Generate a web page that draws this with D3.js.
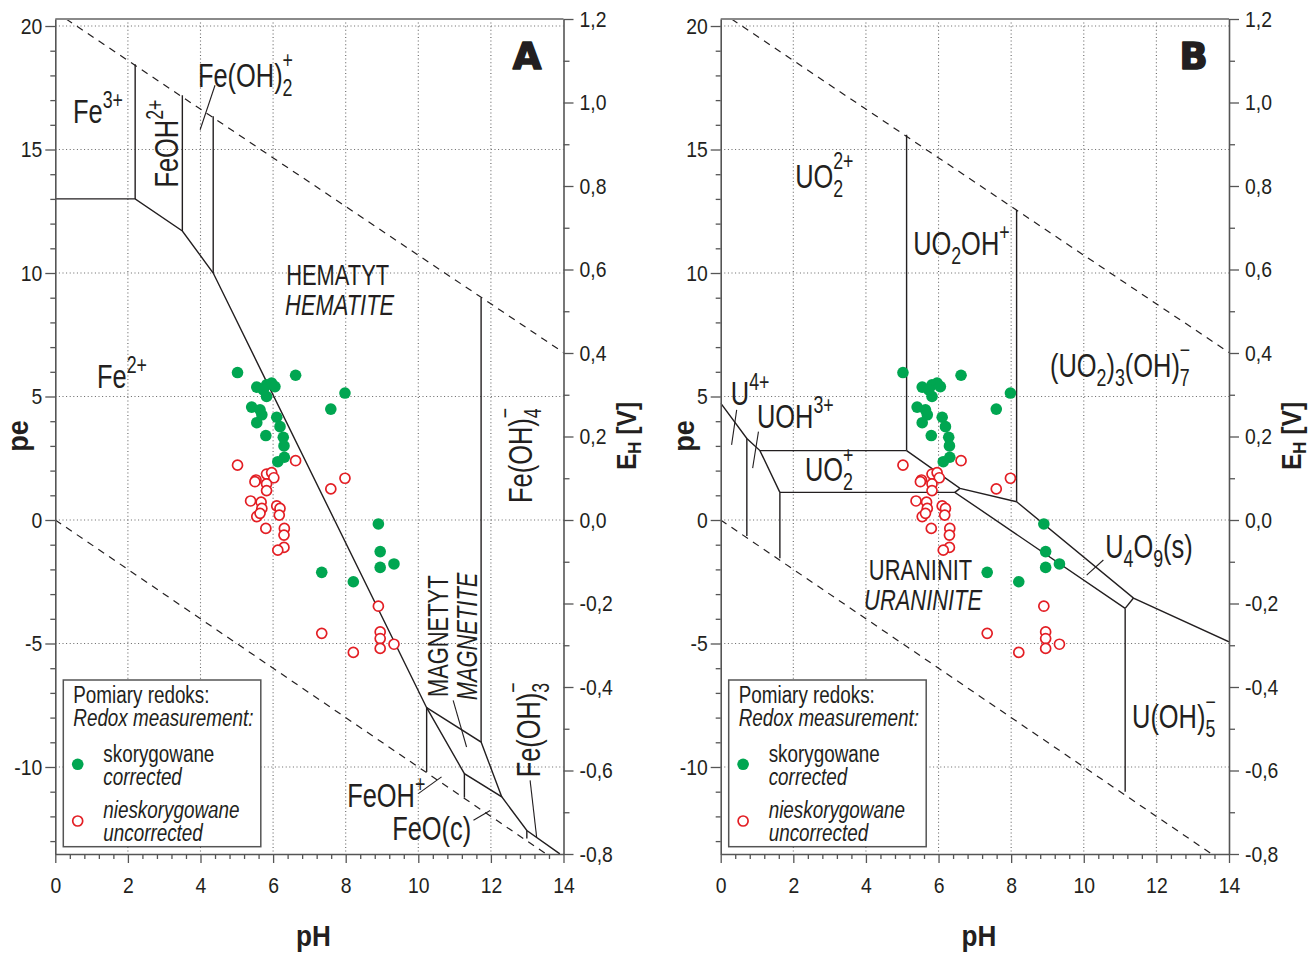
<!DOCTYPE html>
<html><head><meta charset="utf-8">
<script src="https://cdn.jsdelivr.net/npm/d3@7"></script>
<style>
body{margin:0;background:#fff}
svg text{font-family:"Liberation Sans Narrow","Liberation Sans",Arial,sans-serif;fill:#231f20}
</style></head><body>
<svg id="c" width="1309" height="953"></svg>
<script>
// ---------- DATA ----------
const phTicks = [0, 2, 4, 6, 8, 10, 12, 14];
const peTicks = [-10, -5, 0, 5, 10, 15, 20];
const ehTicks = [-0.8, -0.6, -0.4, -0.2, 0, 0.2, 0.4, 0.6, 0.8, 1.0, 1.2];

// Redox measurements (same set drawn on both panels)
const correctedPH = [5.02, 6.62, 5.55, 5.82, 5.96, 6.05, 5.82, 5.73, 5.41, 5.64, 5.69, 5.55, 6.10, 6.19, 5.80, 6.28, 6.30, 6.31, 6.13, 7.34, 7.59, 7.98, 8.90, 8.95, 8.95, 9.33, 8.21];
const correctedPE = [5.97, 5.86, 5.38, 5.47, 5.54, 5.40, 5.00, 5.27, 4.57, 4.46, 4.26, 3.94, 4.16, 3.78, 3.42, 3.35, 3.00, 2.54, 2.36, -2.12, 4.49, 5.14, -0.16, -1.28, -1.92, -1.78, -2.50];
const uncorrectedPH = [5.02, 6.62, 5.53, 5.50, 5.82, 5.96, 6.02, 5.82, 5.82, 5.38, 5.67, 5.69, 5.55, 5.64, 5.80, 6.10, 6.19, 6.17, 6.31, 6.30, 6.30, 6.13, 7.59, 7.98, 8.90, 7.34, 8.95, 8.95, 8.95, 9.33, 8.21];
const uncorrectedPE = [2.22, 2.40, 1.62, 1.55, 1.86, 1.92, 1.71, 1.46, 1.19, 0.77, 0.72, 0.47, 0.14, 0.27, -0.34, 0.57, 0.47, 0.20, -0.34, -0.61, -1.11, -1.22, 1.26, 1.69, -3.49, -4.59, -4.53, -4.80, -5.20, -5.03, -5.36];

// water stability limits [pH, pe]
const waterUpper = [[0.3, 20.28], [14, 6.78]];
const waterLower = [[0, 0], [13.52, -13.52]];

// Fe boundaries [pH, pe]
const feBoundaries = [
  [[0, 13], [2.2, 13], [3.5, 11.7], [4.35, 10], [10.23, -7.6], [11.27, -10.27], [12.3, -11.21], [12.99, -12.57], [13.9, -13.52]],
  [[2.2, 13], [2.2, 18.45]],
  [[3.5, 11.7], [3.5, 17.2]],
  [[4.35, 10], [4.35, 16.35]],
  [[10.23, -7.6], [11.73, -8.99], [12.3, -11.21]],
  [[11.73, -8.99], [11.73, 9.0]],
  [[10.23, -7.6], [10.23, -10.2]],
  [[11.27, -10.27], [11.27, -11.24]],
  [[12.99, -12.57], [12.99, -12.9]]
];
const feLeaders = [
  [[3.99, 15.8], [4.4, 17.6]],
  [[10.96, -7.3], [11.33, -9.19]],
  [[10.0, -11.08], [10.64, -10.4]],
  [[11.52, -12.16], [11.98, -11.76]],
  [[13.08, -10.54], [13.26, -12.84]]
];
// U boundaries [pH, pe]
const uBoundaries = [
  [[5.12, 2.81], [5.12, 15.6]],
  [[8.15, 0.74], [8.15, 12.55]],
  [[0, 4.73], [0.72, 3.3], [1.08, 2.81], [1.63, 1.12]],
  [[1.08, 2.81], [5.12, 2.81]],
  [[5.12, 2.81], [6.59, 1.28], [8.15, 0.74]],
  [[6.59, 1.28], [6.45, 1.12]],
  [[1.63, 1.12], [6.45, 1.12], [11.14, -3.58]],
  [[8.15, 0.74], [11.37, -3.16], [14, -4.93]],
  [[11.14, -3.58], [11.37, -3.16]],
  [[11.14, -3.58], [11.14, -11.0]],
  [[0.72, 3.3], [0.72, -0.65]],
  [[1.63, 1.12], [1.63, -1.55]]
];
const uLeaders = [
  [[0.44, 4.46], [0.30, 3.04]],
  [[1.04, 3.58], [0.88, 2.1]],
  [[10.08, -2.23], [10.54, -1.62]]
];

// Species labels: anchor [pH, pe], text parts
const feLabels = [
  {at: [0.49, 16.09], parts: [["Fe"], ["3+", "sup"]]},
  {at: [3.38, 13.46], rot: -90, parts: [["FeOH"], ["2+", "sup"]]},
  {at: [3.93, 17.55], parts: [["Fe(OH)"], ["2", "sub"], ["+", "supS"]]},
  {at: [1.15, 5.35], parts: [["Fe"], ["2+", "sup"]]},
  {at: [13.13, 0.69], rot: -90, parts: [["Fe(OH)"], ["4", "sub"], ["\u2212", "supS"]]},
  {at: [10.82, -7.17], rot: -90, caps: true, parts: [["MAGNETYT"]]},
  {at: [11.62, -7.3], rot: -90, caps: true, italic: true, parts: [["MAGNETITE"]]},
  {at: [13.35, -10.42], rot: -90, parts: [["Fe(OH)"], ["3", "sub"], ["\u2212", "supS"]]},
  {at: [8.04, -11.63], parts: [["FeOH"], ["+", "sup"]]},
  {at: [9.28, -12.97], parts: [["FeO(c)"]]}
];
const feMineral = [{t: "HEMATYT", at: [6.36, 9.53]}, {t: "HEMATITE", at: [6.33, 8.31], italic: true}];
const uLabels = [
  {at: [2.05, 13.46], parts: [["UO"], ["2", "sub"], ["2+", "supS"]]},
  {at: [5.3, 10.74], parts: [["UO"], ["2", "sub"], ["OH"], ["+", "sup"]]},
  {at: [9.07, 5.8], parts: [["(UO"], ["2", "sub"], [")"], ["3", "sub"], ["(OH)"], ["7", "sub"], ["\u2212", "supS"]]},
  {at: [0.28, 4.66], parts: [["U"], ["4+", "sup"]]},
  {at: [1.0, 3.73], parts: [["UOH"], ["3+", "sup"]]},
  {at: [2.32, 1.58], parts: [["UO"], ["2", "sub"], ["+", "supS"]]},
  {at: [10.59, -1.54], parts: [["U"], ["4", "sub"], ["O"], ["9", "sub"], ["(s)"]]},
  {at: [11.33, -8.43], parts: [["U(OH)"], ["5", "sub"], ["\u2212", "supS"]]}
];
const uMineral = [{t: "URANINIT", at: [4.08, -2.43]}, {t: "URANINITE", at: [3.95, -3.65], italic: true}];
const panelLetters = ["A", "B"];
const legendTitle = ["Pomiary redoks:", "Redox measurement:"];
const legendSeries = [["skorygowane", "corrected"], ["nieskorygowane", "uncorrected"]];
const axisTitles = {x: "pH", y: "pe", y2: "E", y2sub: "H", y2unit: " [V]"};

// ---------- LAYOUT ----------
const svg = d3.select("#c");
const TOP = 19, BOTTOM = 854;
const PE_PER_V = 1 / 0.05916;
const eh = d3.scaleLinear().domain([-0.8, 1.2]).range([BOTTOM, TOP]);
const pe = d3.scaleLinear().domain([-0.8 * PE_PER_V, 1.2 * PE_PER_V]).range([BOTTOM, TOP]);
const INK = "#231f20";
const fmtEh = v => (v < -1e-9 ? "-" : "") + Math.abs(v).toFixed(1).replace(".", ",");
const fmtPe = v => (v < 0 ? "-" + (-v) : "" + v);

// horizontally condense text (reference uses a condensed face)
function squeeze(sel, f) {
  sel.each(function () {
    const w = this.getComputedTextLength();
    if (w > 0) d3.select(this).attr("textLength", w * f).attr("lengthAdjust", "spacingAndGlyphs");
  });
}

// one <text> per label; sub/superscripts as tspans, whole label condensed by scale
function drawLabel(g, px, py, L) {
  const size = L.caps ? 30 : 33;
  const f = L.caps ? 0.73 : 0.77;
  const grp = g.append("g").attr("transform",
    `translate(${px},${py})` + (L.rot ? ` rotate(${L.rot})` : "") + ` scale(${f},1)`);
  const te = grp.append("text").attr("font-size", size).style("font-style", L.italic ? "italic" : null);
  let cx = 0, lastStart = 0, lastEnd = 0;
  L.parts.forEach(([t, kind]) => {
    const small = kind === "sub" || kind === "sup" || kind === "supS";
    const fs = small ? size * 0.7 : size;
    const dy = kind === "sub" ? size * 0.28 : kind === "sup" ? -size * 0.45 : kind === "supS" ? -size * 0.56 : 0;
    const stacked = kind === "supS";
    const sx = stacked ? lastStart : cx;
    const ts = te.append("tspan").attr("x", sx).attr("y", dy).attr("font-size", fs).text(t);
    const w = ts.node().getComputedTextLength();
    if (stacked) { cx = Math.max(lastEnd, sx + w); }
    else { lastStart = sx; cx = sx + w; lastEnd = cx; }
  });
}

// two-line mineral label (Polish / English) as a single text element
function drawMineral(g, x, lines) {
  const f = 0.73;
  const px = x(lines[0].at[0]), py = pe(lines[0].at[1]);
  const grp = g.append("g").attr("transform", `translate(${px},${py}) scale(${f},1)`);
  const te = grp.append("text").attr("font-size", 30);
  lines.forEach(l => te.append("tspan")
    .attr("x", (x(l.at[0]) - px) / f).attr("y", pe(l.at[1]) - py)
    .style("font-style", l.italic ? "italic" : null).text(l.t));
}

function drawPanel(idx, x0, x1, boundaries, leaders, labels, mineral) {
  const g = svg.append("g");
  const x = d3.scaleLinear().domain([0, 14]).range([x0, x1]);
  const line = d3.line().x(d => x(d[0])).y(d => pe(d[1]));
  const clipId = "clip" + idx;
  svg.append("clipPath").attr("id", clipId).append("rect")
    .attr("x", x0).attr("y", TOP).attr("width", x1 - x0).attr("height", BOTTOM - TOP);

  // grid
  const grid = g.append("g").attr("stroke", "#666").attr("stroke-width", 1.1).attr("stroke-dasharray", "1,2.6");
  phTicks.filter(v => v > 0 && v < 14).forEach(v =>
    grid.append("line").attr("x1", x(v)).attr("x2", x(v)).attr("y1", TOP).attr("y2", BOTTOM));
  peTicks.forEach(v =>
    grid.append("line").attr("x1", x0).attr("x2", x1).attr("y1", pe(v)).attr("y2", pe(v)));

  const plot = g.append("g").attr("clip-path", `url(#${clipId})`);
  // water limits
  [waterUpper, waterLower].forEach(w => plot.append("path").attr("d", line(w))
    .attr("fill", "none").attr("stroke", INK).attr("stroke-width", 1.2).attr("stroke-dasharray", "7,6"));
  // boundaries
  boundaries.forEach(b => plot.append("path").attr("d", line(b))
    .attr("fill", "none").attr("stroke", INK).attr("stroke-width", 1.4).attr("stroke-linejoin", "miter"));
  leaders.forEach(b => plot.append("path").attr("d", line(b))
    .attr("fill", "none").attr("stroke", INK).attr("stroke-width", 1.1));

  // points
  uncorrectedPH.forEach((v, i) => plot.append("circle").attr("cx", x(v)).attr("cy", pe(uncorrectedPE[i]))
    .attr("r", 5).attr("fill", "#fff").attr("stroke", "#e31e24").attr("stroke-width", 1.7));
  correctedPH.forEach((v, i) => plot.append("circle").attr("cx", x(v)).attr("cy", pe(correctedPE[i]))
    .attr("r", 5.8).attr("fill", "#00a651"));

  // labels
  labels.forEach(L => drawLabel(g, x(L.at[0]), pe(L.at[1]), L));
  drawMineral(g, x, mineral);
  g.append("text").attr("x", x(idx === 0 ? 12.6 : 12.64)).attr("y", pe(18.24))
    .style("font-family", "'DejaVu Sans',sans-serif").style("font-weight", "bold")
    .attr("stroke", INK).attr("stroke-width", 1.6).attr("stroke-linejoin", "round")
    .attr("font-size", 37).text(panelLetters[idx]);

  // frame top
  g.append("line").attr("x1", x0).attr("x2", x1).attr("y1", TOP).attr("y2", TOP)
    .attr("stroke", "#8a8a8a").attr("stroke-width", 2);

  // axes
  const styleAxis = a => {
    a.attr("font-family", null).attr("font-size", null);
    a.selectAll("path.domain").attr("stroke", "#555").attr("stroke-width", 1.6);
    a.selectAll(".tick line").attr("stroke", "#555").attr("stroke-width", 1.3);
    a.selectAll(".tick text").attr("font-size", 22).attr("fill", INK);
    squeeze(a.selectAll(".tick text"), 0.88);
  };
  const left = g.append("g").attr("transform", `translate(${x0},0)`)
    .call(d3.axisLeft(pe).tickValues(peTicks).tickSize(10).tickSizeOuter(0).tickPadding(3).tickFormat(fmtPe));
  styleAxis(left);
  const leftMinor = g.append("g").attr("transform", `translate(${x0},0)`)
    .call(d3.axisLeft(pe).tickValues(d3.range(-13, 21).filter(v => v % 5 !== 0)).tickSize(5).tickFormat(""));
  styleAxis(leftMinor); leftMinor.select("path.domain").remove();

  const bottom = g.append("g").attr("transform", `translate(0,${BOTTOM})`)
    .call(d3.axisBottom(x).tickValues(phTicks).tickSize(9).tickSizeOuter(0).tickPadding(14).tickFormat(d => d));
  styleAxis(bottom);
  const bottomMinor = g.append("g").attr("transform", `translate(0,${BOTTOM})`)
    .call(d3.axisBottom(x).tickValues(d3.range(1, 35).filter(i => i % 5 !== 0).map(i => i * 0.4)).tickSize(5).tickFormat(""));
  styleAxis(bottomMinor); bottomMinor.select("path.domain").remove();

  const right = g.append("g").attr("transform", `translate(${x1},0)`)
    .call(d3.axisRight(eh).tickValues(ehTicks).tickSize(10).tickSizeOuter(0).tickPadding(6).tickFormat(fmtEh));
  styleAxis(right);
  const rightMinor = g.append("g").attr("transform", `translate(${x1},0)`)
    .call(d3.axisRight(eh).tickValues(d3.range(-7, 12, 2).map(v => v / 10)).tickSize(6).tickFormat(""));
  styleAxis(rightMinor); rightMinor.select("path.domain").remove();

  // axis titles
  const tY = g.append("text").attr("transform", `translate(${x0 - 27},436) rotate(-90)`).attr("text-anchor", "middle")
    .style("font-weight", "bold").attr("font-size", 30).text(axisTitles.y);
  const tX = g.append("text").attr("x", (x0 + x1) / 2 + 4).attr("y", 946).attr("text-anchor", "middle")
    .style("font-weight", "bold").attr("font-size", 29).text(axisTitles.x);
  squeeze(tY, 0.9); squeeze(tX, 0.9);
  const t2 = g.append("g").attr("transform", `translate(${x1 + 72},436) rotate(-90) scale(0.88,1)`)
    .append("text").attr("text-anchor", "middle")
    .style("font-weight", "bold").attr("font-size", 28);
  t2.append("tspan").text(axisTitles.y2);
  t2.append("tspan").attr("font-size", 19).attr("dy", 5).text(axisTitles.y2sub);
  t2.append("tspan").attr("dy", -5).text(axisTitles.y2unit);

  // legend
  const lg = g.append("g");
  lg.append("rect").attr("x", x0 + 8).attr("y", 680).attr("width", 197.5).attr("height", 166.7)
    .attr("fill", "#fff").attr("stroke", "#555").attr("stroke-width", 1.5);
  lg.append("circle").attr("cx", x0 + 22.4).attr("cy", 764.3).attr("r", 5.8).attr("fill", "#00a651");
  lg.append("circle").attr("cx", x0 + 22.4).attr("cy", 821).attr("r", 5).attr("fill", "#fff")
    .attr("stroke", "#e31e24").attr("stroke-width", 1.7);
  const block = (bx, by, l1, l2, it1) => {
    const te = lg.append("g").attr("transform", `translate(${bx},${by}) scale(0.82,1)`)
      .append("text").attr("font-size", 23);
    te.append("tspan").attr("x", 0).attr("y", 0).style("font-style", it1 ? "italic" : null).text(l1);
    te.append("tspan").attr("x", 0).attr("y", 23).style("font-style", "italic").text(l2);
  };
  block(x0 + 18, 703, legendTitle[0], legendTitle[1], false);
  block(x0 + 48, 762, legendSeries[0][0], legendSeries[0][1], false);
  block(x0 + 48, 818, legendSeries[1][0], legendSeries[1][1], true);
}

drawPanel(0, 55.3, 563.5, feBoundaries, feLeaders, feLabels, feMineral);
drawPanel(1, 720.7, 1229, uBoundaries, uLeaders, uLabels, uMineral);
</script>
</body></html>
